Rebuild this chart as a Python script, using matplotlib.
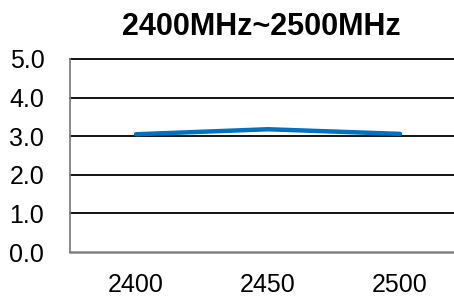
import matplotlib
matplotlib.use('Agg')
import matplotlib.pyplot as plt

freqs = ['2400', '2450', '2500']
values = [3.05, 3.18, 3.06]
yticks = [0.0, 1.0, 2.0, 3.0, 4.0, 5.0]

plt.rcParams['font.family'] = ['Liberation Sans', 'DejaVu Sans']

fig = plt.figure(figsize=[4.54, 2.97], dpi=100)
# plot area runs off the right edge, as in the original
ax = fig.add_axes([70 / 454, 45 / 297, 396 / 454, 193 / 297])

x = list(range(len(freqs)))
ax.plot(x, values, color='#0070C0', lw=3.2, solid_capstyle='round', zorder=3)

ax.set_xlim(-0.5, len(freqs) - 0.5)
ax.set_ylim(0, 5)
ax.set_yticks(yticks)
ax.set_yticklabels(['%.1f' % v for v in yticks])
ax.set_xticks(x)
ax.set_xticklabels(freqs)
ax.tick_params(length=0, labelsize=18, colors='black')
ax.tick_params(axis='y', pad=18.5)
ax.tick_params(axis='x', pad=15)
for v in yticks[1:]:
    ax.axhline(v, color='black', lw=1.3, zorder=1, clip_on=False)

for s in ['top', 'right']:
    ax.spines[s].set_visible(False)
ax.spines['left'].set_color('#808080')
ax.spines['left'].set_linewidth(1.3)
ax.spines['bottom'].set_color('#808080')
ax.spines['bottom'].set_linewidth(1.8)

fig.text(261 / 454, 1 - 27 / 297, '2400MHz~2500MHz', ha='center', va='center',
         fontsize=22, fontweight='bold')

plt.savefig('out.png', dpi=100)
plt.close()
